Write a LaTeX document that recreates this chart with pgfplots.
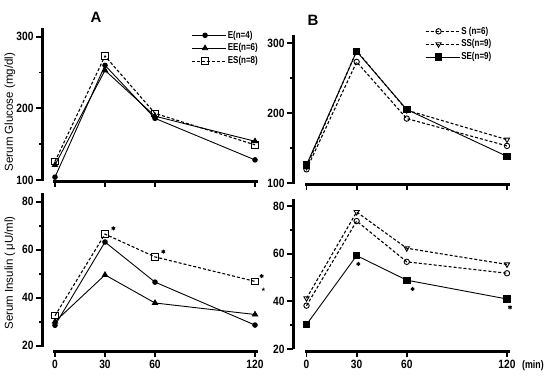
\documentclass[border=0pt]{standalone}
\usepackage{fontspec}
\setmainfont{Liberation Sans}
\newfontfamily\tickfont[FakeStretch=0.85,UprightFont={* Bold}]{Liberation Sans}
\newfontfamily\legfont[FakeStretch=0.8,UprightFont={* Bold}]{Liberation Sans}
\usepackage{pgfplots}
\pgfplotsset{compat=1.18}
\pgfplotsset{
  panel/.style={
    scale only axis, clip=false,
    axis x line*=bottom, axis y line*=left,
    axis line style={draw=none},
    tick align=outside,
    major tick length=5pt, minor tick length=3pt,
    tick style={draw=none},
    xtick={0,30,60,120},
    /pgf/number format/assume math mode=true,
    tick label style={font=\tickfont\fontsize{12}{12}\selectfont},
    legend cell align=left,
    legend style={draw=none, fill=none, anchor=north west,
      font=\legfont\fontsize{10}{10}\selectfont,
      row sep=0pt,
      nodes={inner sep=1.2pt, text height=8pt, text depth=2.5pt}},
    legend image code/.code={\draw[mark repeat=2,mark phase=2] plot coordinates {(0pt,0pt)(13pt,0pt)(26pt,0pt)}; \path (0pt,0pt) -- (34pt,0pt);},
  },
  sline/.style={black, line width=0.9pt, solid},
  dline/.style={black, line width=1.1pt, dash pattern=on 3pt off 2pt},
}
\begin{document}
\begin{tikzpicture}[x=1pt,y=1pt]
\useasboundingbox (0,0) rectangle (555,383);
% ---------------- axis frames (spines and ticks as filled bars)
% top left
\fill[black] (40.5,202) rectangle (43.5,355);
\fill[black] (53,199.8) rectangle (257.5,202.8);
\foreach \yy in {203,274.65,346.3} \fill[black] (36,{\yy-0.9}) rectangle (42,{\yy+0.9});
\foreach \yy in {238.8,310.5} \fill[black] (38.5,{\yy-0.9}) rectangle (42,{\yy+0.9});
\foreach \xx in {55,105,155,255} \fill[black] ({\xx-0.9},196) rectangle ({\xx+0.9},201);
% bottom left
\fill[black] (40.5,35.5) rectangle (43.5,190);
\fill[black] (53,29.8) rectangle (257.5,32.8);
\foreach \yy in {37.3,85.3,133.3,181.3} \fill[black] (36,{\yy-0.9}) rectangle (42,{\yy+0.9});
\foreach \yy in {61.3,109.3,157.3} \fill[black] (38.5,{\yy-0.9}) rectangle (42,{\yy+0.9});
\foreach \xx in {55,105,155,255} \fill[black] ({\xx-0.9},25.8) rectangle ({\xx+0.9},31);
% top right
\fill[black] (291.5,199) rectangle (294.5,348);
\fill[black] (304.5,197.1) rectangle (509.5,200.1);
\foreach \yy in {200,270,340} \fill[black] (287,{\yy-0.9}) rectangle (293,{\yy+0.9});
\foreach \yy in {235,305} \fill[black] (289.5,{\yy-0.9}) rectangle (293,{\yy+0.9});
\foreach \xx in {306.5,356.6,406.8,507} \fill[black] ({\xx-0.9},193.1) rectangle ({\xx+0.9},198.6);
% bottom right
\fill[black] (291.5,33.5) rectangle (294.5,183.5);
\fill[black] (304.5,29.6) rectangle (509.5,32.6);
\foreach \yy in {34,81.7,129.3,177} \fill[black] (287,{\yy-0.9}) rectangle (293,{\yy+0.9});
\foreach \yy in {57.9,105.5,153.2} \fill[black] (289.5,{\yy-0.9}) rectangle (293,{\yy+0.9});
\foreach \xx in {306.5,356.6,406.8,507} \fill[black] ({\xx-0.9},25.6) rectangle ({\xx+0.9},31);
% ---------------- Top left: glucose A
\begin{axis}[panel, at={(42pt,201.6pt)}, anchor=south west,
  width=215.5pt, height=152.6pt,
  xmin=-7.8, xmax=121.5, ymin=98, ymax=311,
  ytick={100,200,300}, minor ytick={150,250},
  xticklabels={},
  legend style={at={(axis cs:80,314)}}]
\addplot[sline, mark=*, mark size=2.3pt, mark options={solid}] coordinates {(0,104)(30,260)(60,186)(120,128)};
\addplot[sline, mark=triangle*, mark size=3pt, mark options={solid}] coordinates {(0,121)(30,253)(60,189)(120,154)};
\addplot[dline, mark=square, mark size=3.2pt, mark options={solid, fill=white, line width=0.9pt}] coordinates {(0,126)(30,273)(60,193)(120,149)};
\legend{E(n=4), EE(n=6), ES(n=8)}
\end{axis}
% ---------------- Bottom left: insulin A
\begin{axis}[panel, at={(42pt,31.3pt)}, anchor=south west,
  width=215.5pt, height=158.4pt,
  xmin=-7.8, xmax=121.5, ymin=17.5, ymax=83.5,
  ytick={20,40,60,80}, minor ytick={30,50,70}]
\addplot[sline, mark=*, mark size=2.3pt, mark options={solid}] coordinates {(0,28.5)(30,63.2)(60,46.5)(120,28.6)};
\addplot[sline, mark=triangle*, mark size=3pt, mark options={solid}] coordinates {(0,30)(30,49.5)(60,37.8)(120,33)};
\addplot[dline, mark=square, mark size=3.2pt, mark options={solid, fill=white, line width=0.9pt}] coordinates {(0,32.5)(30,66.5)(60,57)(120,46.8)};
\addplot[only marks, mark=asterisk, mark size=2pt, line width=1pt] coordinates {(35,68.9)(65,59.2)(124,49)};
\addplot[only marks, mark=star, mark size=1.6pt, line width=0.6pt] coordinates {(125,43.5)};
\end{axis}
% ---------------- Top right: glucose B
\begin{axis}[panel, at={(293pt,198.6pt)}, anchor=south west,
  width=216.5pt, height=149.1pt,
  xmin=-8.1, xmax=121.5, ymin=98, ymax=311,
  ytick={100,200,300}, minor ytick={150,250},
  xticklabels={},
  legend style={at={(axis cs:69,329)}}]
\addplot[dline, mark=o, mark size=2.7pt, mark options={solid, fill=white, line width=0.9pt}] coordinates {(0,119.5)(30,273)(60,192)(120,153)};
\addplot[dline, mark=triangle, mark size=3pt, mark options={solid, rotate=180, fill=white, line width=0.9pt}] coordinates {(0,123)(30,289)(60,204)(120,162)};
\addplot[sline, mark=square*, mark size=3.2pt, mark options={solid}] coordinates {(0,126)(30,288)(60,205)(120,138)};
\legend{S (n=6), SS(n=9), SE(n=9)}
\end{axis}
% ---------------- Bottom right: insulin B
\begin{axis}[panel, at={(293pt,31.1pt)}, anchor=south west,
  width=216.5pt, height=151.8pt,
  xmin=-8.1, xmax=121.5, ymin=18.8, ymax=82.5,
  ytick={20,40,60,80}, minor ytick={30,50,70}]
\addplot[dline, mark=o, mark size=2.7pt, mark options={solid, fill=white, line width=0.9pt}] coordinates {(0,38.2)(30,73.7)(60,56.6)(120,51.8)};
\addplot[dline, mark=triangle, mark size=3pt, mark options={solid, rotate=180, fill=white, line width=0.9pt}] coordinates {(0,41.3)(30,77.5)(60,62.3)(120,55.5)};
\addplot[sline, mark=square*, mark size=3.2pt, mark options={solid}] coordinates {(0,30.3)(30,59.2)(60,48.9)(120,41)};
\addplot[only marks, mark=asterisk, mark size=2pt, line width=1pt] coordinates {(31,55.7)(63.5,45.2)(121.8,37.5)};
\end{axis}
% ---------------- labels
\node[rotate=90, font=\fontsize{11.5}{11.5}\selectfont] at (10,271) {Serum Glucose (mg/dl)};
\node[rotate=90, font=\fontsize{11.5}{11.5}\selectfont] at (10,110) {Serum Insulin (\,μU/ml)};
\node[font=\bfseries\fontsize{15}{15}\selectfont] at (96,366) {A};
\node[font=\bfseries\fontsize{15}{15}\selectfont] at (313,363) {B};
\node[anchor=west, inner sep=0pt, font=\legfont\fontsize{11}{11}\selectfont] at (522,17.5) {(min)};
\end{tikzpicture}
\end{document}
